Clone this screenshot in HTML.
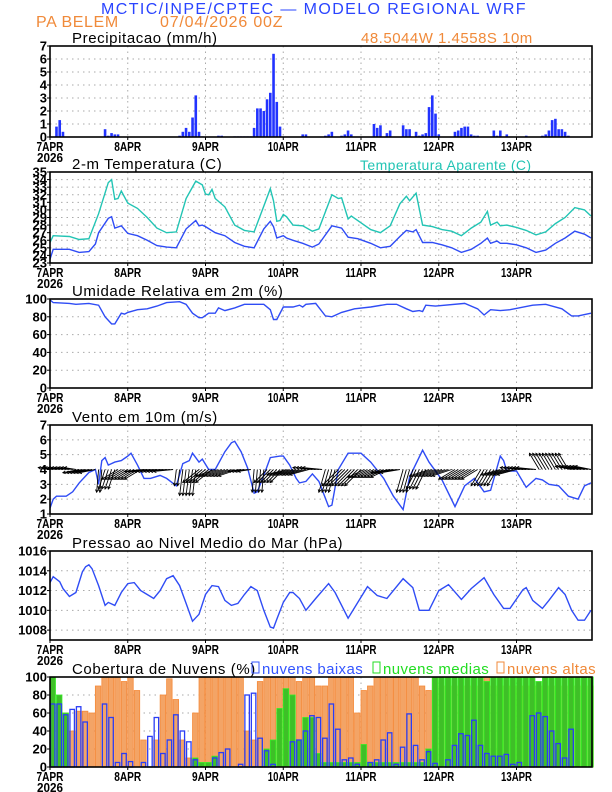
<!DOCTYPE html>
<html><head><meta charset="utf-8"><style>
html,body{margin:0;padding:0;background:#fff}
svg{display:block}
text{font-family:"Liberation Sans",sans-serif}
</style></head><body>
<svg id="c" width="612" height="792" viewBox="0 0 612 792" xmlns="http://www.w3.org/2000/svg">
<text x="314" y="14" font-size="16" fill="#2a44ff" text-anchor="middle" letter-spacing="1.4">MCTIC/INPE/CPTEC — MODELO REGIONAL WRF</text>
<text x="36" y="27" font-size="16" fill="#f08a3a" letter-spacing="0.6">PA BELEM</text>
<text x="160" y="27" font-size="16" fill="#f08a3a" letter-spacing="0.8">07/04/2026 00Z</text>
<text x="361" y="43" font-size="15" fill="#f08a3a" letter-spacing="0.5">48.5044W 1.4558S 10m</text>
</svg>
<script>
const hours=[];for(let i=0;i<168;i++)hours.push(i);
const dayLabels=["7APR","8APR","9APR","10APR","11APR","12APR","13APR"];
const precip=[0,0,0.8,1.3,0.4,0.02,0.02,0.02,0.02,0,0,0,0,0,0,0,0,0.6,0.1,0.3,0.2,0.2,0,0,
0,0,0,0,0,0,0,0,0,0,0,0,0,0,0,0,0.1,0.4,0.7,0.4,1.5,3.2,0.4,0.05,
0,0,0,0,0.1,0.1,0,0,0,0.05,0.05,0.05,0.05,0.05,0.05,0.7,2.2,2.2,2.0,2.9,3.4,6.4,2.7,0.8,
0,0,0,0,0,0,0.2,0.2,0,0,0,0,0,0.1,0.2,0.4,0,0,0.1,0.2,0.5,0.2,0,0,
0,0,0,0,1.0,0.7,0.9,0,0.3,0.5,0,0,0,0.9,0.6,0.6,0,0.4,0.1,0.2,0.3,2.3,3.2,1.8,
0.2,0,0,0,0,0.4,0.5,0.7,0.8,0.8,0.2,0.1,0.1,0,0,0,0,0.5,0.1,0.5,0,0.2,0,0,
0,0,0,0.1,0,0,0,0,0.1,0.2,0.5,1.3,1.4,0.6,0.6,0.4,0.1,0,0,0,0,0,0,0];
const tempHours=[0,1,3,6,9,12,14,15,18,19,20,22,24,27,30,33,36,39,42,45,46,47,48,51,54,57,60,63,66,68,69,70,72,73,75,78,81,83,87,90,92,95,99,102,105,108,110,112,113,115,118,121,124,127,130,133,135,136,138,139,141,144,147,150,153,156,159,162,165,167];
const tempVals=[23.5,24.8,24.8,24.8,24.4,24.5,25.5,27,28.9,29.1,27.6,27.9,26.9,26.6,26.0,25.3,25.1,25.0,27.5,28.6,27.9,28.0,27.8,27.0,26.6,25.7,25.2,25.0,27.5,28.5,27.8,26.3,26.6,26.3,26.0,25.6,25.1,25.5,27.9,27.6,26.4,26.2,25.6,25.0,25.2,26.5,27.3,27.1,27.4,25.7,25.7,25.4,25.0,24.4,24.8,25.6,26.3,25.6,25.9,25.6,25.6,25.4,25.0,24.4,24.7,25.6,26.3,27.2,26.8,26.3];
const appHours=[0,1,6,9,12,15,18,19,20,21,22,24,27,30,33,36,39,42,45,47,48,49,50,51,54,57,60,63,66,68,69,70,71,72,73,75,78,81,83,87,89,90,92,93,96,99,102,105,108,110,111,113,115,118,121,124,127,130,133,135,136,138,139,141,144,147,150,153,156,159,162,165,167];
const appVals=[25.7,26.6,26.5,26.1,26.2,29.5,33.6,34.0,31.4,31.5,32.5,30.9,30.2,29.0,27.6,27.0,27.1,31.5,33.8,33.3,32.1,32.0,32.7,31.5,30.4,28.0,27.3,27.1,30.5,32.8,31.2,28.5,28.6,29.4,29.1,28.0,27.9,27.2,27.5,32.0,31.5,31.6,28.8,29.2,28.3,27.4,27.0,27.9,30.8,31.8,31.2,32.2,28.0,27.8,27.4,27.2,26.6,27.6,28.4,29.8,28.0,28.4,27.9,28.0,27.7,27.3,26.7,27.1,28.2,29.0,30.3,30.0,29.2];
const rhHours=[0,1,6,8,12,15,17,19,20,22,23,24,27,30,33,36,40,42,44,46,47,49,51,52,54,57,60,66,68,69,70,72,75,77,78,79,82,85,87,90,94,99,104,107,110,112,114,115,116,119,128,132,134,136,139,142,149,153,158,161,163,167];
const rhVals=[99,96,95,94,95,93,80,72,72,84,83,85,88,89,92,96,97,94,84,79,79,84,84,90,87,90,94,94,88,77,77,91,91,93,91,94,95,81,80,85,89,91,94,94,89,86,87,86,93,92,95,89,82,88,87,88,93,94,89,81,81,84];
const windHours=[0,1,2,5,7,9,12,14,15,16,17,18,20,22,24,25,27,29,31,34,36,39,41,43,44,46,47,49,51,54,56,57,59,61,63,64,66,68,71,72,74,76,77,79,81,83,86,87,89,92,96,99,103,106,109,111,115,117,121,125,128,131,134,136,139,140,141,144,147,150,152,154,157,160,163,165,167];
const windVals=[1.4,2.0,2.2,2.2,2.5,3.1,3.8,4.0,3.0,4.6,4.8,4.3,4.5,4.6,4.9,5.1,4.3,3.4,3.4,3.6,3.4,2.9,4.4,4.6,5.1,4.5,4.7,4.0,4.0,5.2,5.8,5.9,5.2,4.1,2.4,2.5,3.6,4.8,4.9,4.9,4.3,3.4,3.1,3.2,3.7,3.2,1.5,1.6,4.0,5.1,5.1,4.5,3.4,2.2,1.3,3.5,5.3,4.5,3.3,1.5,2.9,3.4,2.5,2.6,4.9,4.6,3.9,3.9,2.8,3.4,3.3,3.0,2.9,2.2,2.0,2.9,3.1];
const windU=[-1.8,-1.8,-1.8,-1.8,-1.8,-1.8,-1.8,-1.8,-1.8,-2.5,-2.5,-2.5,-2.5,-2.5,-2.5,-0.3,-0.3,-1,-1,-1,-1,-2.5,-2.5,-2.5,
-2.5,-2.5,-2.5,-2.5,-2.5,-3,-3,-3,-3,-3,-3,-3,-3,-3,-3,-0.3,-0.3,-0.5,-0.5,-0.5,-0.5,-0.5,-2.5,-2.5,
-2.5,-2.5,-2.5,-3,-3,-3,-3,-3,-3,-3,-3,-2,-2,-2,-2,-0.3,-0.3,-0.3,-0.3,-2,-2,-2,-2,-2,
-2,-3,-3,-3,-3,-3,-3,-3,-3,-3,-3,-3,-3,-1,-1,-1,-1,-2.5,-2.5,-2.5,-2.5,-2.5,-2.5,-2.5,
-2.5,-2.5,-2.5,-2.5,-2.5,-2.5,-2.5,-2.5,-2.5,-3,-3,-3,-3,-1,-1,-1,-1,-1.5,-1.5,-1.5,-1.5,-3,-3,-3,
-3,-3,-3,-3,-3,-2.5,-2.5,-2.5,-2.5,-2.5,-2.5,-2.5,-2.5,-1.5,-1.5,-1.5,-1.5,-1.5,-1.5,-3,-3,-3,-3,-3,
-3,-3,-3,-3,-3,-3,-3,-1.5,-1.5,-1.5,-1.5,-1.5,-1.5,-1.5,-1.5,-1.5,-1.5,-2.5,-2.5,-2.5,-2.5,-2.5,-2.5,-2.5];
const windV=[0.3,0.3,0.3,0.3,0.3,0.3,0.3,0.3,0.3,-0.5,-0.5,-0.5,-0.5,-0.5,-0.5,-3.5,-3.5,-3,-3,-3,-3,-1.5,-1.5,-1.5,
-1.5,-1.5,-1.5,-1.5,-1.5,-0.3,-0.3,-0.3,-0.3,-0.3,-0.3,-0.3,-0.3,-0.3,-0.3,-2.5,-2.5,-4,-4,-4,-4,-4,-2,-2,
-2,-2,-2,-1,-1,-1,-1,-1,-1,-1,-1,-0.3,-0.3,-0.3,-0.3,-3.5,-3.5,-3.5,-3.5,-2,-2,-2,-2,-2,
-2,-0.8,-0.8,-0.8,-0.8,-0.8,-0.8,-0.8,-0.8,0.3,0.3,0.3,0.3,-3.5,-3.5,-3.5,-3.5,-2.5,-2.5,-2.5,-2.5,-2.5,-2.5,-2.5,
-2.5,-1.2,-1.2,-1.2,-1.2,-1.2,-1.2,-1.2,-1.2,-0.5,-0.5,-0.5,-0.5,-3.5,-3.5,-3.5,-3.5,-3,-3,-3,-3,-1,-1,-1,
-1,-1,-1,-1,-1,-1.5,-1.5,-1.5,-1.5,-1.5,-1.5,-1.5,-1.5,-2.5,-2.5,-2.5,-2.5,-2.5,-2.5,-0.8,-0.8,-0.8,-0.8,-0.8,
-0.8,0.3,0.3,0.3,0.3,0.3,0.3,2.5,2.5,2.5,2.5,2.5,2.5,2.5,2.5,2.5,2.5,0.5,0.5,0.5,0.5,0.5,0.5,0.5];
const presHours=[0,1,3,4,6,8,10,11,12,13,15,17,18,20,22,24,26,28,30,32,34,36,38,40,42,44,46,48,50,52,54,56,58,60,62,64,66,68,69,70,72,74,75,77,79,82,86,88,92,95,98,101,104,109,112,114,117,120,123,127,130,134,137,140,142,146,147,149,152,154,157,159,161,163,165,167];
const presVals=[1012.8,1013.4,1012.9,1012.2,1011.4,1011.8,1013.9,1014.4,1014.6,1014.2,1012.5,1010.5,1010.8,1010.5,1011.8,1012.7,1012.8,1012.0,1011.6,1011.2,1012.0,1013.2,1013.5,1012.5,1010.7,1008.9,1009.6,1011.6,1012.5,1012.4,1011.0,1010.5,1010.7,1011.6,1012.4,1012.0,1010.0,1008.3,1008.2,1009.1,1010.8,1011.8,1011.8,1011.2,1010.0,1011.2,1012.7,1011.8,1009.2,1010.8,1012.4,1011.5,1011.2,1013.2,1012.3,1010.0,1010.0,1012.0,1012.6,1011.1,1012.2,1013.3,1011.6,1010.2,1010.2,1012.1,1012.3,1011.0,1010.2,1011.0,1012.3,1011.6,1010.0,1009.0,1009.0,1010.0];
const cloudHours=[];for(let i=0;i<168;i+=2)cloudHours.push(i);
const cloudLow=[70,70,58,64,67,50,0,0,70,55,5,15, 6,0,5,34,55,15,30,58,40,28,8,0, 0,10,16,20,0,3,80,82,32,18,3,0, 0,28,30,40,57,55,32,70,42,8,10,3, 0,5,8,30,38,3,22,59,24,8,17,4, 0,8,24,37,35,52,24,15,12,12,14,3, 5,0,57,60,56,40,26,10,42,0,0,0];
const cloudMid=[100,80,60,0,0,0,0,0,0,0,0,0, 0,0,0,0,0,0,0,0,0,0,10,5, 5,12,0,0,0,0,0,0,0,20,30,65, 87,80,30,55,55,15,5,5,5,5,5,5, 25,5,5,5,5,5,5,5,5,5,20,100, 100,100,100,100,100,100,100,95,100,100,100,100, 100,100,100,95,100,100,100,100,100,100,100,100];
const cloudHigh=[0,70,60,40,62,62,60,90,100,100,100,95, 100,85,30,0,30,80,98,75,30,10,60,100, 100,100,100,100,100,100,40,30,95,100,100,100, 100,100,95,100,100,90,90,100,100,100,100,60, 85,90,100,100,100,100,100,100,100,90,85,100, 90,90,90,90,90,90,90,100,90,90,90,90, 90,90,90,90,90,90,90,90,90,90,90,90];

const NS="http://www.w3.org/2000/svg";
const svg=document.getElementById('c');
const X0=50,X1=592,HMAX=167.3;
function xs(h){return X0+h*(X1-X0)/HMAX;}
function mk(tag,attrs,parent){const e=document.createElementNS(NS,tag);for(const k in attrs)e.setAttribute(k,attrs[k]);(parent||svg).appendChild(e);return e;}
function txt(s,attrs,parent){const e=mk('text',attrs,parent);e.textContent=s;return e;}
const BLUE="#2f4cf5",CYAN="#22c4b4";

function panel(name,top,bot,ymin,ymax,ticks,title){
  const g=mk('g',{});
  
  
  const ys=v=>bot-(v-ymin)*(bot-top)/(ymax-ymin);
  ticks.forEach(t=>{
    const y=ys(t);
    if(t!==ymin&&t!==ymax){const l=mk('line',{x1:X0,x2:X1,y1:y,y2:y,stroke:'#aaa','stroke-width':1,'stroke-dasharray':'1.5,4'},g);
      }
    const tl=txt(String(t),{x:47,y:y+4.5,'font-size':13,'text-anchor':'end',fill:'#000','font-weight':'bold'},g);
    
    mk('line',{x1:X0-3,x2:X0,y1:y,y2:y,stroke:'#000'},g);
  });
  for(let d=1;d<7;d++){const x=xs(d*24);
    const l=mk('line',{x1:x,x2:x,y1:top,y2:bot,stroke:'#aaa','stroke-width':1,'stroke-dasharray':'1.5,4'},g);
    }
  dayLabels.forEach((s,d)=>{const x=xs(d*24);
    mk('line',{x1:x,x2:x,y1:bot,y2:bot+3,stroke:'#000'},g);
    const t=txt(s,{x:x,y:bot+14,'font-size':13,'text-anchor':'middle','font-weight':'bold',fill:'#000','textLength':s.length>4?31:27,lengthAdjust:'spacingAndGlyphs'},g);
    });
  const yr=txt('2026',{x:37,y:bot+25,'font-size':13,'font-weight':'bold',fill:'#000','textLength':26,lengthAdjust:'spacingAndGlyphs'},g);
  
  const tt=txt(title,{x:72,y:top-3,'font-size':15,fill:'#000','letter-spacing':'0.6'},g);
  
  return {g,ys,top,bot};
}
function frame(p){const r=mk('rect',{x:X0,y:p.top,width:X1-X0,height:p.bot-p.top,fill:'none',stroke:'#000','stroke-width':1.6});
  }
function line(p,hs,vs,color,name){
  const d=hs.map((h,i)=>(i?'L':'M')+xs(h).toFixed(1)+','+p.ys(vs[i]).toFixed(1)).join('');
  const e=mk('path',{d:d,fill:'none',stroke:color,'stroke-width':1.4});
  
}

const p1=panel('precipitation',46,137,0,7,[0,1,2,3,4,5,6,7],'Precipitacao (mm/h)');
precip.forEach((v,i)=>{ if(v<=0) return;
  const y=p1.ys(v);
  const b=mk('rect',{x:xs(hours[i])-1.3,y:y,width:2.6,height:p1.bot-y,fill:'#2233ff'});
  
  
});
frame(p1);

const t2=[];for(let t=23;t<=35;t++)t2.push(t);
const p2=panel('temperature',172,263,23,35,t2,'2-m Temperatura (C)');
const lg=txt('Temperatura Aparente (C)',{x:360,y:170,'font-size':14,fill:CYAN,'letter-spacing':'0.4'});

line(p2,appHours,appVals,CYAN,'apparent-temperature-line');
line(p2,tempHours,tempVals,BLUE,'temperature-line');
frame(p2);

const p3=panel('humidity',299,388,0,100,[0,20,40,60,80,100],'Umidade Relativa em 2m (%)');
line(p3,rhHours,rhVals,BLUE,'humidity-line');
frame(p3);

const p4=panel('wind',425,514,1,7,[1,2,3,4,5,6,7],'Vento em 10m (m/s)');
line(p4,windHours,windVals,BLUE,'wind-speed-line');
const wy=p4.ys(4),S=6.5;
windU.forEach((u,i)=>{
  const x0=xs(hours[i]),x1=x0+u*S,y1=wy-windV[i]*S;
  const g=mk('g',{});
  
  
  mk('line',{x1:x0,y1:wy,x2:x1,y2:y1,stroke:'#000','stroke-width':0.9},g);
  const a=Math.atan2(y1-wy,x1-x0),L=3;
  mk('path',{d:`M${x1-L*Math.cos(a-0.5)},${y1-L*Math.sin(a-0.5)}L${x1},${y1}L${x1-L*Math.cos(a+0.5)},${y1-L*Math.sin(a+0.5)}`,fill:'none',stroke:'#000','stroke-width':0.9},g);
});
frame(p4);

const p5=panel('pressure',551,640,1007,1016,[1008,1010,1012,1014,1016],'Pressao ao Nivel Medio do Mar (hPa)');
line(p5,presHours,presVals,BLUE,'pressure-line');
frame(p5);

const p6=panel('cloud-cover',677,767,0,100,[0,20,40,60,80,100],'Cobertura de Nuvens (%)');
const bw=(xs(2)-xs(0))-1;
cloudHigh.forEach((v,i)=>{ if(v<=0) return; const y=p6.ys(v);
  const b=mk('rect',{x:xs(cloudHours[i]),y:y,width:bw,height:p6.bot-y,fill:'#f3a466',stroke:'#f58a3a','stroke-width':0.8});
  
  });
cloudMid.forEach((v,i)=>{ if(v<=0) return; const y=p6.ys(v);
  const b=mk('rect',{x:xs(cloudHours[i]),y:y,width:bw,height:p6.bot-y,fill:'#3fbf28',stroke:'#33ee22','stroke-width':0.8});
  
  });
cloudLow.forEach((v,i)=>{ if(v<=0) return; const y=p6.ys(v);
  const b=mk('rect',{x:xs(cloudHours[i])+0.5,y:y,width:bw-1,height:p6.bot-y,fill:'none',stroke:'#2a3df5','stroke-width':1.3});
  
  });
frame(p6);
[[252,'#3355ff','nuvens baixas','legend-low-clouds'],[373,'#22dd22','nuvens medias','legend-mid-clouds'],[497,'#f08a3a','nuvens altas','legend-high-clouds']].forEach(a=>{
  const g=mk('g',{});
  
  
  mk('rect',{x:a[0],y:662,width:7,height:11,fill:'none',stroke:a[1],'stroke-width':1},g);
  txt(a[2],{x:a[0]+10,y:674,'font-size':15,fill:a[1],'letter-spacing':'0.4'},g);
});
</script>
</body></html>
